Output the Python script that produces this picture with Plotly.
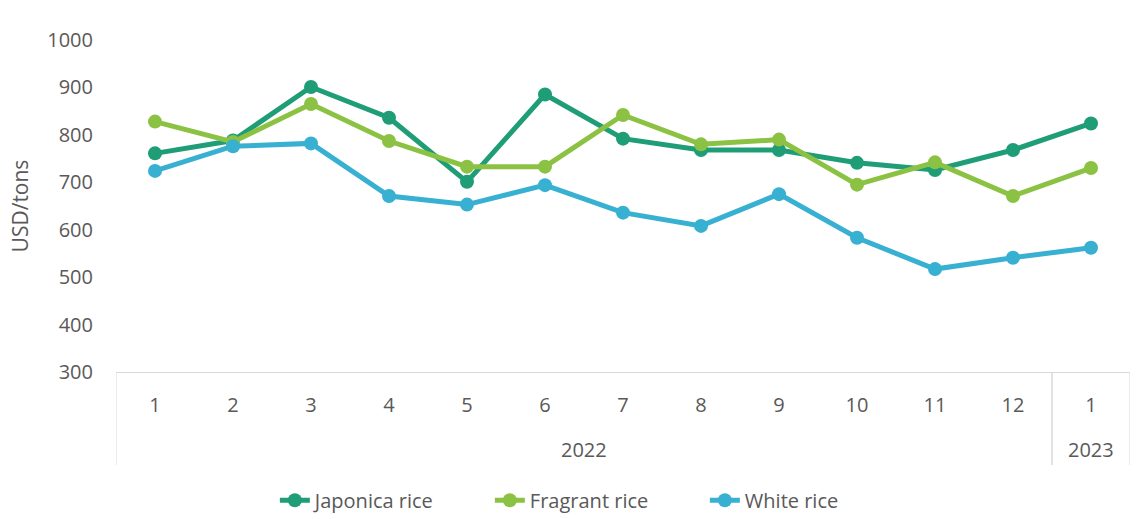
import plotly.graph_objects as go

# Monthly export prices, Jan 2022 - Jan 2023
months = ["1", "2", "3", "4", "5", "6", "7", "8", "9", "10", "11", "12", "1"]
years = ["2022"] * 12 + ["2023"]

japonica = [761, 788, 901, 836, 701, 885, 792, 768, 768, 741, 726, 768, 824]
fragrant = [828, 785, 865, 787, 733, 733, 842, 780, 790, 695, 742, 671, 730]
white = [724, 776, 782, 671, 653, 694, 636, 608, 675, 583, 517, 541, 562]

series = [
    ("Japonica rice", japonica, "#1F9D77"),
    ("Fragrant rice", fragrant, "#8CC243"),
    ("White rice", white, "#38B0D1"),
]

xpos = list(range(len(months)))
FONT = "Open Sans"
GREY = "#595959"
LINE = "#D9D9D9"
FS = 20

fig = go.Figure()
for name, vals, color in series:
    fig.add_trace(go.Scatter(
        x=xpos, y=vals, name=name, mode="lines+markers",
        line=dict(color=color, width=5),
        marker=dict(color=color, size=14),
    ))

# Year group labels and dividers of the two-level category axis
groups = []
for i, yr in enumerate(years):
    if not groups or groups[-1][0] != yr:
        groups.append([yr, i, i])
    else:
        groups[-1][2] = i

shapes = []
annotations = []
div_bottom = -0.28
for yr, start, end in groups:
    annotations.append(dict(
        x=(start + end) / 2, y=-0.232, xref="x", yref="paper",
        text=yr, showarrow=False, yanchor="middle",
        font=dict(family=FONT, size=FS, color=GREY),
    ))
    for edge in (start - 0.5, end + 0.5):
        shapes.append(dict(
            type="line", xref="x", yref="paper",
            x0=edge, x1=edge, y0=0, y1=div_bottom,
            line=dict(color=LINE, width=1),
        ))

fig.update_layout(
    width=1140, height=519,
    margin=dict(l=116, r=10, t=40, b=147),
    plot_bgcolor="white", paper_bgcolor="white",
    font=dict(family=FONT, size=FS, color=GREY),
    shapes=shapes, annotations=annotations,
    showlegend=True,
    legend=dict(
        orientation="h", xref="container", yref="container",
        x=0.524, xanchor="center", y=0.036, yanchor="middle",
        font=dict(family=FONT, size=FS, color=GREY),
        entrywidth=170, tracegroupgap=0,
    ),
)
fig.update_xaxes(
    range=[-0.5, len(months) - 0.5],
    tickvals=xpos, ticktext=months, ticks="",
    ticklabelstandoff=15,
    showline=True, linecolor=LINE, linewidth=1,
    showgrid=False, zeroline=False,
)
fig.update_yaxes(
    range=[300, 1000], dtick=100, tick0=300,
    showgrid=False, zeroline=False, showline=False,
    ticks="", ticklabelstandoff=22,
    title=dict(text="USD/tons", font=dict(family=FONT, size=21, color=GREY), standoff=12),
)

fig.write_html("out.html")
